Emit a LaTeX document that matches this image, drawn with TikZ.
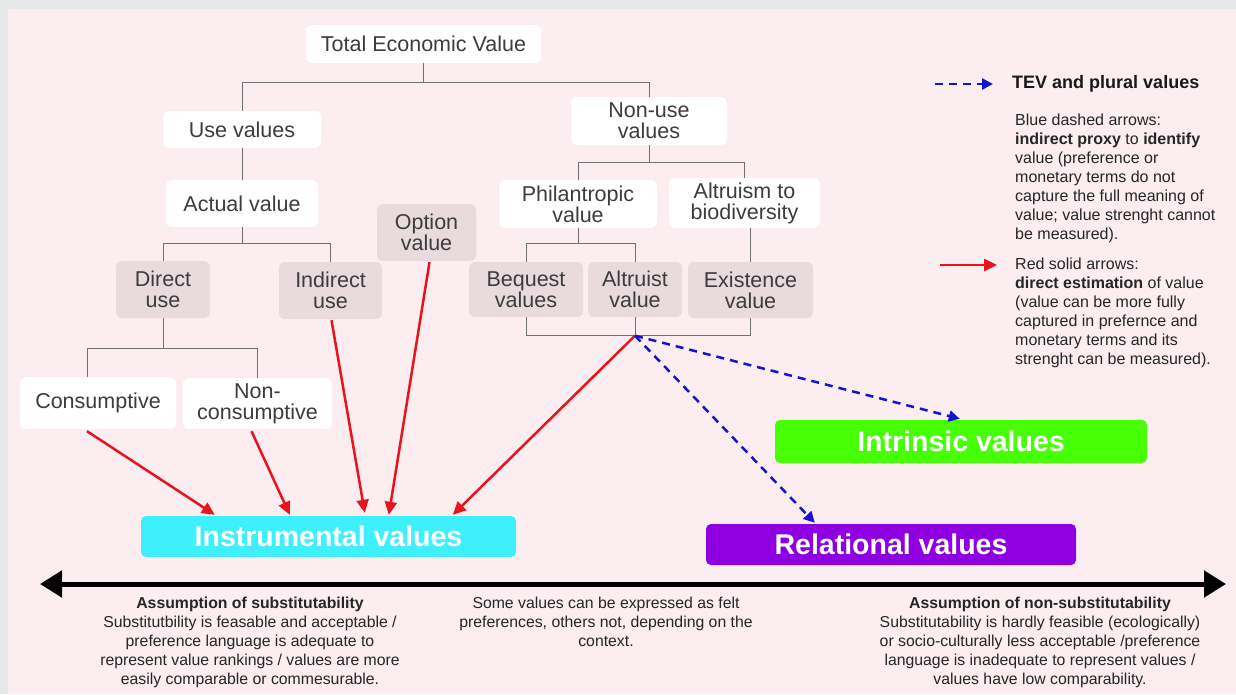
\documentclass[tikz,border=0pt]{standalone}
\usepackage{fontspec}
\setmainfont{Liberation Sans}
\usetikzlibrary{arrows.meta,calc}
\definecolor{outergray}{HTML}{E6E7E9}
\definecolor{pinkbg}{HTML}{FBEDF0}
\definecolor{treeline}{HTML}{707070}
\definecolor{nodetext}{HTML}{3C3C3C}
\definecolor{graybox}{HTML}{E8DADD}
\definecolor{instcol}{HTML}{3EF0FB}
\definecolor{intrcol}{HTML}{46FF05}
\definecolor{relcol}{HTML}{8F00E0}
\definecolor{redarr}{HTML}{E8141C}
\definecolor{bluearr}{HTML}{1414D0}
\tikzset{
  treebox/.style={fill=white, rounded corners=6pt, text=nodetext, align=center,
    inner sep=0pt, font=\fontsize{21.5}{21}\selectfont},
  graytreebox/.style={treebox, fill=graybox},
  bigbox/.style={rounded corners=5pt, text=white, align=center, inner sep=0pt,
    font=\fontsize{28.5}{29}\selectfont\bfseries},
  tree/.style={draw=treeline, line width=1pt},
  redarrow/.style={draw=redarr, line width=2.5pt, -{Triangle[length=13pt,width=12pt]}},
  bluearrow/.style={draw=bluearr, line width=2.5pt, dash pattern=on 8pt off 6pt,
    -{Triangle[length=11pt,width=11pt]}},
  axisarrow/.style={draw=black, line width=5pt,
    {Triangle[length=22pt,width=26pt]}-{Triangle[length=22pt,width=26pt]}},
  smalltext/.style={text=black!85, align=center, inner sep=0pt,
    font=\fontsize{15.8}{19}\selectfont},
  legendtext/.style={text=black!85, align=left, inner sep=0pt, anchor=north west,
    font=\fontsize{16}{19}\selectfont}
}
\begin{document}
\begin{tikzpicture}[x=1pt,y=-1pt]
\useasboundingbox (0,0) rectangle (1236,694);
\fill[outergray] (0,0) rectangle (1236,694);
\fill[pinkbg] (8,9) rectangle (1236,694);

% tree nodes
\node[treebox, minimum width=235pt, minimum height=38pt] (tev) at (423.5,44) {Total Economic Value};
\node[treebox, minimum width=158pt, minimum height=37pt] (use) at (242,129.5) {Use values};
\node[treebox, minimum width=156pt, minimum height=48pt] (nonuse) at (649,121) {Non-use\\values};
\node[treebox, minimum width=152pt, minimum height=47pt] (actual) at (242,203.5) {Actual value};
\node[graytreebox, minimum width=99pt, minimum height=57pt] (option) at (426.5,232.5) {Option\\value};
\node[treebox, minimum width=158pt, minimum height=48pt] (phil) at (578,204) {Philantropic\\value};
\node[treebox, minimum width=151pt, minimum height=50pt] (altb) at (744.5,203) {Altruism to\\biodiversity};
\node[graytreebox, minimum width=94pt, minimum height=57pt] (direct) at (163,289.5) {Direct\\use};
\node[graytreebox, minimum width=103pt, minimum height=57pt] (indirect) at (330.5,290.5) {Indirect\\use};
\node[graytreebox, minimum width=114pt, minimum height=55pt] (bequest) at (526,289.5) {Bequest\\values};
\node[graytreebox, minimum width=94pt, minimum height=55pt] (altruist) at (635,289.5) {Altruist\\value};
\node[graytreebox, minimum width=125pt, minimum height=56pt] (exist) at (750.5,290) {Existence\\value};
\node[treebox, minimum width=156pt, minimum height=52pt] (cons) at (98,403) {Consumptive};
\node[treebox, minimum width=149pt, minimum height=51pt] (noncons) at (257.5,403.5) {Non-\\consumptive};

% big boxes
\node[bigbox, fill=instcol, minimum width=375pt, minimum height=41pt] (instr) at (328.5,536.5) {Instrumental values};
\node[bigbox, fill=intrcol, minimum width=372pt, minimum height=43pt] (intr) at (961,441.5) {Intrinsic values};
\node[bigbox, fill=relcol, minimum width=370pt, minimum height=41pt] (rel) at (891,544.5) {Relational values};

% tree lines
\draw[tree] (tev.south) -- ++(0,19) coordinate (t1);
\draw[tree] (use.north) |- (t1) -| (nonuse.north);
\draw[tree] (use.south) -- (actual.north);
\draw[tree] (actual.south) -- ++(0,16) coordinate (t2);
\draw[tree] (direct.north) |- (t2) -| (indirect.north);
\draw[tree] (direct.south) -- ++(0,30) coordinate (t3);
\draw[tree] ($(cons.north)+(-11,0)$) |- (t3) -| (noncons.north);
\draw[tree] (nonuse.south) -- ++(0,17) coordinate (t4);
\draw[tree] (phil.north) |- (t4) -| (altb.north);
\draw[tree] (phil.south) -- ++(0,15) coordinate (t5);
\draw[tree] (bequest.north) |- (t5) -| (altruist.north);
\draw[tree] (exist.north) -- (exist.north |- altb.south);
\draw[tree] (altruist.south) -- ++(0,18.5) coordinate (j);
\draw[tree] (bequest.south) |- (j) -| (exist.south);

% red arrows
\draw[redarrow] ($(cons.south)+(-11,2)$) -- ($(instr.north west)+(74,-1)$);
\draw[redarrow] ($(noncons.south)+(-6,2)$) -- ($(instr.north west)+(149,-1)$);
\draw[redarrow] ($(indirect.south)+(1,1)$) -- ($(instr.north west)+(224,-3)$);
\draw[redarrow] ($(option.south)+(3,1)$) -- ($(instr.north west)+(248,-1)$);
\draw[redarrow] (j) -- ($(instr.north west)+(312,-1)$);

% blue arrows
\draw[bluearrow] (j) -- ($(intr.north west)+(185,-1)$);
\draw[bluearrow] (j) -- ($(rel.north west)+(109,-1)$);

% axis
\coordinate (axl) at (40,584);
\coordinate (axr) at (1226,584);
\draw[axisarrow] (axl) -- (axr);

% bottom texts
\node[smalltext, anchor=north] (lefttxt) at (250,597) {\textbf{Assumption of substitutability}\\Substitutbility is feasable and acceptable /\\preference language is adequate to\\represent value rankings / values are more\\easily comparable or commesurable.};
\node[smalltext, anchor=north] (midtxt) at (606,597) {Some values can be expressed as felt\\preferences, others not, depending on the\\context.};
\node[smalltext, anchor=north] (righttxt) at (1040,597) {\textbf{Assumption of non-substitutability}\\Substitutability is hardly feasible (ecologically)\\or socio-culturally less acceptable /preference\\language is inadequate to represent values /\\values have low comparability.};

% legend
\coordinate (lb1) at (935,84);
\coordinate (lb2) at (993,84);
\draw[bluearrow] (lb1) -- (lb2);
\node[anchor=west, inner sep=0pt, text=black!90, font=\fontsize{18}{19}\selectfont\bfseries] (legtitle) at (1012,84) {TEV and plural values};
\node[legendtext] (legblue) at (1015,114) {Blue dashed arrows:\\\textbf{indirect proxy} to \textbf{identify}\\value (preference or\\monetary terms do not\\capture the full meaning of\\value; value strenght cannot\\be measured).};
\coordinate (lr1) at (940,265);
\coordinate (lr2) at (997,265);
\draw[redarrow] (lr1) -- (lr2);
\node[legendtext] (legred) at (1015,258) {Red solid arrows:\\\textbf{direct estimation} of value\\(value can be more fully\\captured in prefernce and\\monetary terms and its\\strenght can be measured).};
\end{tikzpicture}
\end{document}
